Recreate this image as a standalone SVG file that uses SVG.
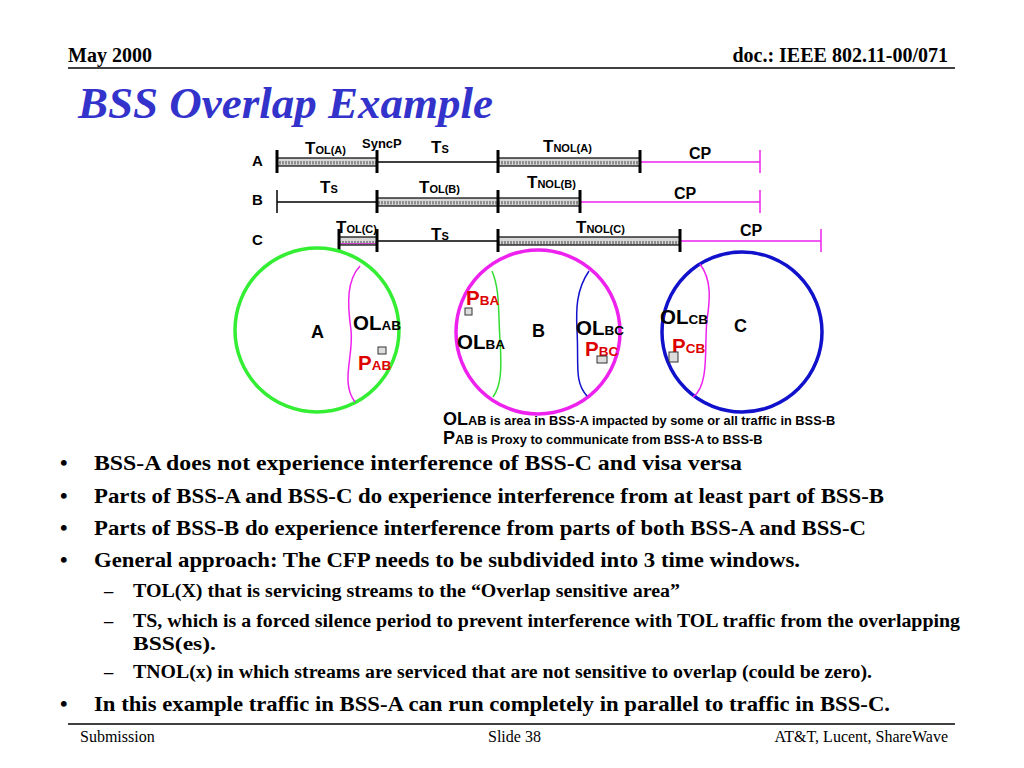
<svg xmlns="http://www.w3.org/2000/svg" width="1024" height="768" viewBox="0 0 1024 768">
<style>
.hdr{font-family:"Liberation Serif",serif;font-weight:bold;font-size:20px;fill:#000}
.ttl{font-family:"Liberation Serif",serif;font-weight:bold;font-style:italic;font-size:45px;fill:#3333CC}
.ft{font-family:"Liberation Serif",serif;font-size:16px;fill:#000}
.bl{font-family:"Liberation Serif",serif;font-weight:bold;font-size:21.5px;fill:#000}
.sb{font-family:"Liberation Serif",serif;font-weight:bold;font-size:18.5px;fill:#000}
.tl{font-family:"Liberation Sans",Arial,sans-serif;font-weight:bold;fill:#000}
.big{font-size:17px}
.sm{font-size:11px}
.row{font-size:15px}
.cp{font-size:16px}
.cl{font-family:"Liberation Sans",Arial,sans-serif;font-weight:bold;fill:#000}
.L{font-size:20.5px}
.S{font-size:13.5px}
.red{fill:#DD0000}
.lg{font-family:"Liberation Sans",Arial,sans-serif;font-weight:bold;fill:#000;font-size:12.8px}
.lgb{font-size:18px}
.rule{stroke:#000;stroke-width:1.5}
.blk{stroke:#000;stroke-width:1.5;fill:none}
.mag{stroke:#EE22EE;stroke-width:1.5;fill:none}
.tick{stroke:#000;stroke-width:3}
.mtick{stroke:#EE22EE;stroke-width:1.5}
.bar{fill:url(#hatch);stroke:#000;stroke-width:1.2}
.sq{fill:#ddd;stroke:#333;stroke-width:1}
</style>
<defs>
<pattern id="hatch" patternUnits="userSpaceOnUse" x="0" y="0" width="3" height="8">
<rect width="3" height="8" fill="#d8d8d8"/>
<line x1="1" y1="1" x2="1" y2="4.5" stroke="#444" stroke-width="1"/>
</pattern>
</defs>

<g id="header">
<text class="hdr" x="68" y="62">May 2000</text>
<text class="hdr" x="948" y="62" text-anchor="end">doc.: IEEE 802.11-00/071</text>
<line class="rule" x1="68" y1="68" x2="955" y2="68"/>
<text class="ttl" x="78" y="118">BSS Overlap Example</text>
</g>

<g id="timeline">
<g id="rowA">
<text class="tl row" x="252" y="166">A</text>
<rect class="bar" x="277" y="158" width="100" height="8"/>
<line class="blk" x1="377" y1="162" x2="498" y2="162"/>
<rect class="bar" x="498" y="158" width="142" height="8"/>
<line class="mag" x1="640" y1="162" x2="760" y2="162"/>
<line class="tick" x1="277" y1="150" x2="277" y2="173"/>
<line class="tick" x1="377" y1="150" x2="377" y2="173"/>
<line class="tick" x1="498" y1="150" x2="498" y2="173"/>
<line class="tick" x1="640" y1="150" x2="640" y2="173"/>
<line class="mtick" x1="760" y1="150" x2="760" y2="173"/>
<text class="tl" x="305" y="154"><tspan class="big">T</tspan><tspan class="sm">OL(A)</tspan></text>
<text class="tl" x="362" y="148" font-size="13">SyncP</text>
<text class="tl" x="431" y="153"><tspan class="big">T</tspan><tspan class="sm">S</tspan></text>
<text class="tl" x="543" y="152"><tspan class="big">T</tspan><tspan class="sm">NOL(A)</tspan></text>
<text class="tl cp" x="689" y="159">CP</text>
</g>
<g id="rowB">
<text class="tl row" x="252" y="205">B</text>
<line class="blk" x1="277" y1="202" x2="377" y2="202"/>
<rect class="bar" x="377" y="198" width="121" height="8"/>
<rect class="bar" x="498" y="198" width="82" height="8"/>
<line class="mag" x1="580" y1="202" x2="760" y2="202"/>
<line class="blk" x1="277" y1="190" x2="277" y2="213"/>
<line class="tick" x1="377" y1="190" x2="377" y2="213"/>
<line class="tick" x1="498" y1="190" x2="498" y2="213"/>
<line class="tick" x1="580" y1="190" x2="580" y2="213"/>
<line class="mtick" x1="760" y1="190" x2="760" y2="213"/>
<text class="tl" x="320" y="193"><tspan class="big">T</tspan><tspan class="sm">S</tspan></text>
<text class="tl" x="419" y="193"><tspan class="big">T</tspan><tspan class="sm">OL(B)</tspan></text>
<text class="tl" x="527" y="188"><tspan class="big">T</tspan><tspan class="sm">NOL(B)</tspan></text>
<text class="tl cp" x="674" y="199">CP</text>
</g>
<g id="rowC">
<text class="tl row" x="252" y="245">C</text>
<rect class="bar" x="339" y="237" width="38" height="8"/>
<line x1="339" y1="243.5" x2="377" y2="243.5" stroke="#CC44CC" stroke-width="1"/>
<line class="blk" x1="377" y1="241" x2="498" y2="241"/>
<rect class="bar" x="498" y="237" width="182" height="8"/>
<line class="mag" x1="680" y1="241" x2="821" y2="241"/>
<line class="tick" x1="339" y1="229" x2="339" y2="252"/>
<line class="tick" x1="377" y1="229" x2="377" y2="252"/>
<line class="tick" x1="498" y1="229" x2="498" y2="252"/>
<line class="tick" x1="680" y1="229" x2="680" y2="252"/>
<line class="mtick" x1="821" y1="229" x2="821" y2="252"/>
<text class="tl" x="336" y="233"><tspan class="big">T</tspan><tspan class="sm">OL(C)</tspan></text>
<text class="tl" x="431" y="240"><tspan class="big">T</tspan><tspan class="sm">S</tspan></text>
<text class="tl" x="576" y="233"><tspan class="big">T</tspan><tspan class="sm">NOL(C)</tspan></text>
<text class="tl cp" x="740" y="236">CP</text>
</g>
</g>

<g id="bssA">
<circle cx="317" cy="330" r="82" fill="none" stroke="#33EE33" stroke-width="3.5"/>
<path d="M360,266 C347,280 347,302 351,330 C354,356 340,382 355,402" fill="none" stroke="#EE22EE" stroke-width="1.5"/>
<text class="cl" x="311" y="338" font-size="18">A</text>
<text class="cl" x="353" y="330"><tspan class="L">OL</tspan><tspan class="S">AB</tspan></text>
<rect class="sq" x="378" y="347" width="8" height="7"/>
<text class="cl red" x="358" y="370"><tspan class="L">P</tspan><tspan class="S">AB</tspan></text>
</g>

<g id="bssB">
<circle cx="538" cy="332" r="82" fill="none" stroke="#EE22EE" stroke-width="3.5"/>
<path d="M492,271 C500,290 498,310 500,340 C502,370 501,386 493,397" fill="none" stroke="#33DD33" stroke-width="1.5"/>
<path d="M589,271 C576,290 576,310 577,330 C579,365 574,382 587,396" fill="none" stroke="#1111CC" stroke-width="1.5"/>
<text class="cl red" x="466" y="305"><tspan class="L">P</tspan><tspan class="S">BA</tspan></text>
<rect class="sq" x="465" y="308" width="7" height="7"/>
<text class="cl" x="457" y="349"><tspan class="L">OL</tspan><tspan class="S">BA</tspan></text>
<text class="cl" x="532" y="337" font-size="18">B</text>
<text class="cl" x="576" y="335"><tspan class="L">OL</tspan><tspan class="S">BC</tspan></text>
<text class="cl red" x="585" y="356"><tspan class="L">P</tspan><tspan class="S">BC</tspan></text>
<rect class="sq" x="597" y="356" width="10" height="7"/>
</g>

<g id="bssC">
<circle cx="742" cy="332" r="80" fill="none" stroke="#1111CC" stroke-width="3.5"/>
<path d="M700,264 C712,280 710,300 707,320 C704,345 710,385 693,397" fill="none" stroke="#EE22EE" stroke-width="1.5"/>
<text class="cl" x="660" y="324"><tspan class="L">OL</tspan><tspan class="S">CB</tspan></text>
<text class="cl" x="734" y="332" font-size="18">C</text>
<text class="cl red" x="672" y="353"><tspan class="L">P</tspan><tspan class="S">CB</tspan></text>
<rect class="sq" x="669" y="352" width="9" height="10"/>
</g>

<g id="legend">
<text class="lg" x="443" y="425"><tspan class="lgb">OL</tspan>AB is area in BSS-A impacted by some or all traffic in BSS-B</text>
<text class="lg" x="443" y="444"><tspan class="lgb">P</tspan>AB is Proxy to communicate from BSS-A to BSS-B</text>
</g>

<g id="bullets">
<text class="bl" x="60" y="470">•</text>
<text class="bl" x="94" y="470" textLength="648" lengthAdjust="spacingAndGlyphs">BSS-A does not experience interference of BSS-C and visa versa</text>
<text class="bl" x="60" y="503">•</text>
<text class="bl" x="94" y="503" textLength="790" lengthAdjust="spacingAndGlyphs">Parts of BSS-A and BSS-C do experience interference from at least part of BSS-B</text>
<text class="bl" x="60" y="535">•</text>
<text class="bl" x="94" y="535" textLength="772" lengthAdjust="spacingAndGlyphs">Parts of BSS-B do experience interference from parts of both BSS-A and BSS-C</text>
<text class="bl" x="60" y="567">•</text>
<text class="bl" x="94" y="567" textLength="706" lengthAdjust="spacingAndGlyphs">General approach: The CFP needs to be subdivided into 3 time windows.</text>
<text class="sb" x="104" y="597">–</text>
<text class="sb" x="133" y="597" textLength="547" lengthAdjust="spacingAndGlyphs">TOL(X) that is servicing streams to the “Overlap sensitive area”</text>
<text class="sb" x="104" y="627">–</text>
<text class="sb" x="133" y="627" textLength="827" lengthAdjust="spacingAndGlyphs">TS, which is a forced silence period to prevent interference with TOL traffic from the overlapping</text>
<text class="sb" x="133" y="650" textLength="83" lengthAdjust="spacingAndGlyphs">BSS(es).</text>
<text class="sb" x="104" y="678">–</text>
<text class="sb" x="133" y="678" textLength="739" lengthAdjust="spacingAndGlyphs">TNOL(x) in which streams are serviced that are not sensitive to overlap (could be zero).</text>
<text class="bl" x="60" y="711">•</text>
<text class="bl" x="94" y="711" textLength="796" lengthAdjust="spacingAndGlyphs">In this example traffic in BSS-A can run completely in parallel to traffic in BSS-C.</text>
</g>

<g id="footer">
<line class="rule" x1="68" y1="724" x2="955" y2="724"/>
<text class="ft" x="80" y="742">Submission</text>
<text class="ft" x="488" y="742">Slide 38</text>
<text class="ft" x="948" y="742" text-anchor="end">AT&amp;T, Lucent, ShareWave</text>
</g>
</svg>
